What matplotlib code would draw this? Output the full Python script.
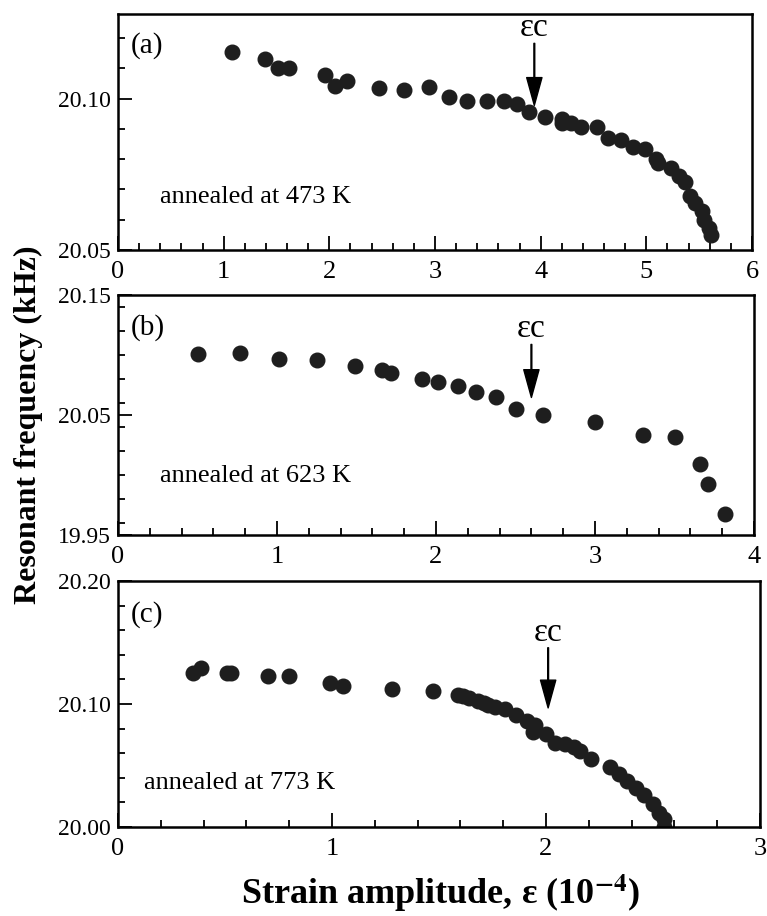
import numpy as np
import matplotlib.pyplot as plt
from matplotlib.ticker import MultipleLocator

plt.rcParams['font.family'] = ['Liberation Serif', 'DejaVu Serif']
plt.rcParams['mathtext.fontset'] = 'stix'

# (a) annealed at 473 K
strain_a = [1.08, 1.39, 1.51, 1.62, 1.96, 2.05, 2.17, 2.47, 2.71, 2.94, 3.13, 3.30,
            3.49, 3.65, 3.78, 3.89, 4.04, 4.20, 4.20, 4.29, 4.38, 4.53, 4.64, 4.76,
            4.87, 4.99, 5.09, 5.11, 5.23, 5.31, 5.37, 5.41, 5.46, 5.53, 5.55, 5.59, 5.61]
freq_a = [20.1153, 20.1131, 20.1102, 20.1102, 20.1080, 20.1042, 20.1058, 20.1036,
          20.1029, 20.1038, 20.1006, 20.0991, 20.0991, 20.0991, 20.0982, 20.0956,
          20.0941, 20.0933, 20.0920, 20.0920, 20.0907, 20.0907, 20.0871, 20.0862,
          20.0842, 20.0833, 20.0802, 20.0789, 20.0772, 20.0744, 20.0724, 20.0680,
          20.0656, 20.0628, 20.0600, 20.0572, 20.0548]

# (b) annealed at 623 K
strain_b = [0.50, 0.77, 1.01, 1.25, 1.49, 1.66, 1.72, 1.91, 2.01, 2.14, 2.25, 2.38,
            2.50, 2.67, 3.00, 3.30, 3.50, 3.66, 3.71, 3.82]
freq_b = [20.1011, 20.1017, 20.0964, 20.0956, 20.0909, 20.0873, 20.0851, 20.0798,
          20.0779, 20.0738, 20.0693, 20.0652, 20.0550, 20.0503, 20.0445, 20.0337,
          20.0315, 20.0094, 19.9923, 19.9674]

# (c) annealed at 773 K
strain_c = [0.35, 0.39, 0.51, 0.53, 0.70, 0.80, 0.99, 1.05, 1.28, 1.47, 1.59, 1.61,
            1.64, 1.68, 1.71, 1.73, 1.76, 1.81, 1.86, 1.91, 1.95, 1.94, 2.00, 2.04,
            2.09, 2.13, 2.16, 2.21, 2.30, 2.34, 2.38, 2.42, 2.46, 2.50, 2.53, 2.55, 2.55]
freq_c = [20.1255, 20.1296, 20.1255, 20.1255, 20.1228, 20.1228, 20.1169, 20.1148,
          20.1124, 20.1102, 20.1070, 20.1062, 20.1048, 20.1027, 20.1008, 20.0995,
          20.0973, 20.0960, 20.0909, 20.0860, 20.0828, 20.0774, 20.0753, 20.0685,
          20.0672, 20.0651, 20.0618, 20.0551, 20.0484, 20.0430, 20.0371, 20.0317,
          20.0263, 20.0188, 20.0113, 20.0067, 20.0000]

labels = ['(a)', '(b)', '(c)']
temps = ['annealed at 473 K', 'annealed at 623 K', 'annealed at 773 K']
eps_c = [3.94, 2.60, 2.01]
xlims = [(0, 6), (0, 4), (0, 3)]
ylims = [(20.05, 20.128), (19.95, 20.15), (20.00, 20.20)]
yticks = [[20.05, 20.10], [19.95, 20.05, 20.15], [20.00, 20.10, 20.20]]
yminor = [0.01, 0.02, 0.02]
# arrow tail/tip in data units
arrow_y = [(20.1183, 20.0978), (20.1088, 20.0646), (20.1457, 20.0968)]
temp_pos = [(0.066, 0.225), (0.066, 0.245), (0.04, 0.18)]

W, H = 767, 916
fig = plt.figure(figsize=(W / 100, H / 100), dpi=100)
boxes = [(118, 14, 752, 250), (118, 295, 754, 535), (118, 581, 760, 827)]
axes = []
for (l, t, r, b) in boxes:
    axes.append(fig.add_axes([l / W, 1 - b / H, (r - l) / W, (b - t) / H]))

data = [(strain_a, freq_a), (strain_b, freq_b), (strain_c, freq_c)]
for i, ax in enumerate(axes):
    xs, ys = data[i]
    ax.plot(xs, ys, 'o', color='#1e1e1e', markersize=10.5)
    ax.set_xlim(*xlims[i])
    ax.set_ylim(*ylims[i])
    ax.set_yticks(yticks[i])
    ax.set_yticklabels(['%.2f' % v for v in yticks[i]])
    ax.xaxis.set_major_locator(MultipleLocator(1))
    ax.xaxis.set_minor_locator(MultipleLocator(0.2))
    ax.yaxis.set_minor_locator(MultipleLocator(yminor[i]))
    ax.tick_params(which='both', direction='in', width=1.3)
    ax.tick_params(which='major', length=10)
    ax.tick_params(which='minor', length=5)
    ax.tick_params(axis='x', pad=8, labelsize=19)
    ax.tick_params(axis='y', pad=5, labelsize=17)
    for s in ax.spines.values():
        s.set_linewidth(1.8)
    ax.text(0.02, 0.865, labels[i], transform=ax.transAxes, fontsize=21,
            va='center', ha='left')
    ax.text(temp_pos[i][0], temp_pos[i][1], temps[i], transform=ax.transAxes,
            fontsize=19, va='center', ha='left')
    tail, tip = arrow_y[i]
    ax.annotate('', xy=(eps_c[i], tip), xytext=(eps_c[i], tail),
                arrowprops=dict(facecolor='black', edgecolor='black', width=0.6,
                                headwidth=11, headlength=20, shrink=0))
    ax.text(eps_c[i], tail, 'εc', fontsize=24, ha='center', va='bottom')

fig.text(440 / W, 1 - 893 / H, r'Strain amplitude, ε (10$^{\mathbf{-4}}$)',
         fontsize=26, fontweight='bold', ha='center', va='center')
fig.text(28 / W, 1 - 425 / H, 'Resonant frequency (kHz)', fontsize=23,
         fontweight='bold', rotation=90, ha='center', va='center')

fig.savefig('out.png', dpi=100)
